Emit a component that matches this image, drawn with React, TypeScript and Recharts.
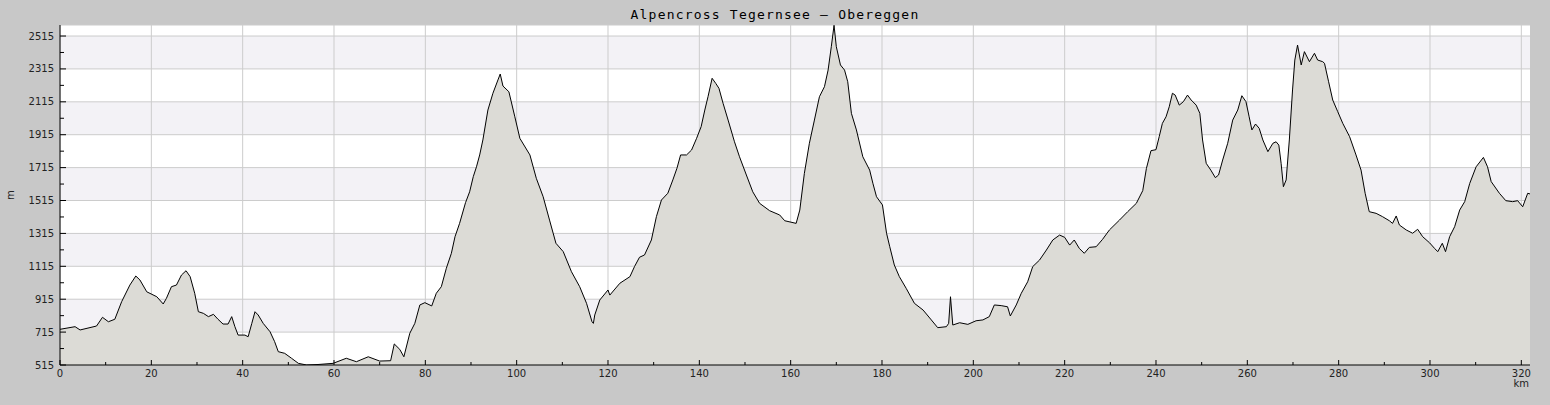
import { AreaChart, Area, XAxis, YAxis, CartesianGrid } from 'recharts';

// distance along the route (km) and elevation (m)
const distanceKm = [
  0, 3.3, 4.4, 8, 9.3, 10.6, 12, 13.5, 15.3, 16.6, 17.5, 19, 21.2, 22.6, 23.3, 24.4, 25.5, 26.6, 27.6, 28.5,
  29.5, 30.3, 31.4, 32.5, 33.6, 34.6, 35.7, 36.8, 37.6, 38.3, 39, 40.5, 41.2, 42, 42.7, 43.4, 44.5, 46, 47, 47.8,
  49.2, 50.7, 52.2, 54, 56.5, 59.8, 62.7, 64.9, 67.5, 70, 72.4, 73.2, 74.4, 75.3, 76.6, 77.7, 78.8, 79.9, 81.4, 82.4,
  83.5, 84.6, 85.7, 86.5, 87.5, 88.8, 89.7, 90.5, 91.2, 91.9, 92.6, 93.7, 94.8, 95.9, 96.4, 97, 98.3, 99.6, 100.7, 102.9,
  104.3, 105.8, 107.2, 108.6, 110.2, 112, 113.8, 115.3, 116.5, 116.8, 117.1, 118.2, 120, 120.4, 122.6, 124.8, 125.8, 126.9, 128, 129.5,
  130.6, 131.7, 133.1, 134.2, 135.1, 135.9, 137.2, 138.3, 139.4, 140.4, 141.2, 141.9, 142.8, 143.6, 144.3, 145.2, 146.3, 147.7, 148.8, 150.3,
  151.7, 153.2, 155.4, 157.6, 158.7, 161.2, 162, 163, 164.1, 165.2, 166.3, 167.4, 168.2, 168.9, 169.5, 170, 170.9, 171.8, 172.5, 173.3,
  174.4, 175.8, 177.3, 178, 178.8, 180.1, 181, 181.7, 182.7, 183.8, 185.3, 187.1, 189, 190.8, 192.2, 194.1, 194.6, 195, 195.5, 197,
  198.8, 200.6, 202.1, 203.5, 204.6, 206.1, 207.5, 208.1, 209.4, 210.5, 211.9, 213, 214.5, 216, 217.4, 218.9, 220, 221.1, 222.1, 223.2,
  224.3, 225.4, 226.9, 228.3, 229.8, 232, 233.8, 235.7, 237.1, 237.9, 238.9, 240, 240.7, 241.4, 242.2, 242.9, 243.6, 244.2, 245.1, 246,
  246.9, 247.7, 248.8, 249.6, 250.2, 251, 252, 253, 253.7, 254.6, 255.7, 256.8, 257.9, 258.8, 259.7, 260.4, 261, 261.8, 262.6, 263.4,
  264.5, 265.6, 266.3, 266.9, 267.4, 267.9, 268.5, 269.2, 269.9, 270.4, 271, 271.8, 272.5, 273.6, 274.7, 275.4, 276.5, 276.9, 277.8, 278.7,
  279.8, 280.9, 282.4, 283.8, 284.9, 285.8, 286.7, 288.2, 289.6, 291.1, 291.8, 292.6, 293.3, 294.8, 296.2, 297.3, 298.4, 299.9, 301, 301.7,
  302.7, 303.4, 304.3, 305.4, 306.5, 307.6, 308.7, 310.1, 311.7, 312.6, 313.4, 315.2, 316.6, 318.1, 319.2, 320.3, 321.4, 321.9,
];

const elevationM = [
  732, 748, 728, 752, 805, 778, 793, 900, 1001, 1056, 1032, 960, 930, 886, 920, 991, 1001, 1062, 1088, 1052,
  951, 839, 829, 809, 823, 793, 764, 764, 809, 748, 697, 697, 687, 768, 839, 819, 768, 717, 657, 596,
  586, 556, 525, 515, 518, 525, 556, 535, 565, 539, 541, 643, 610, 565, 708, 768, 880, 894, 874, 951,
  991, 1103, 1194, 1295, 1376, 1502, 1568, 1660, 1720, 1792, 1883, 2065, 2167, 2248, 2284, 2211, 2176, 2024, 1893, 1792,
  1650, 1538, 1396, 1255, 1204, 1082, 991, 890, 778, 768, 819, 910, 971, 940, 1012, 1052, 1113, 1170, 1184, 1275,
  1417, 1518, 1559, 1640, 1711, 1792, 1792, 1822, 1893, 1964, 2065, 2146, 2258, 2227, 2197, 2106, 2004, 1872, 1781, 1670,
  1568, 1498, 1453, 1427, 1392, 1376, 1457, 1680, 1863, 2004, 2146, 2207, 2308, 2450, 2580, 2450, 2339, 2308, 2237, 2045,
  1944, 1781, 1700, 1620, 1538, 1488, 1316, 1234, 1123, 1052, 981, 890, 849, 789, 742, 748, 768, 930, 758, 772,
  762, 784, 789, 809, 880, 876, 869, 813, 880, 951, 1021, 1113, 1153, 1214, 1275, 1305, 1291, 1244, 1275, 1224,
  1194, 1230, 1234, 1279, 1336, 1396, 1447, 1498, 1575, 1710, 1818, 1824, 1903, 1984, 2024, 2085, 2167, 2156, 2095, 2116,
  2156, 2126, 2095, 2045, 1883, 1741, 1700, 1654, 1670, 1761, 1863, 2004, 2065, 2152, 2116, 2024, 1944, 1980, 1954, 1883,
  1812, 1863, 1872, 1852, 1741, 1599, 1640, 1883, 2187, 2369, 2460, 2339, 2420, 2359, 2410, 2369, 2359, 2349, 2237, 2126,
  2055, 1984, 1903, 1792, 1700, 1559, 1447, 1437, 1417, 1392, 1376, 1421, 1366, 1336, 1316, 1340, 1295, 1258, 1224, 1204,
  1255, 1204, 1295, 1356, 1457, 1508, 1619, 1720, 1777, 1720, 1630, 1559, 1514, 1508, 1514, 1477, 1559, 1555,
];

const xTicks = [0, 10, 20, 30, 40, 50, 60, 70, 80, 90, 100, 110, 120, 130, 140, 150, 160, 170, 180, 190, 200, 210, 220, 230, 240, 250, 260, 270, 280, 290, 300, 310, 320];
const xGrid = [0, 20, 40, 60, 80, 100, 120, 140, 160, 180, 200, 220, 240, 260, 280, 300, 320];
const yTicks = [515, 615, 715, 815, 915, 1015, 1115, 1215, 1315, 1415, 1515, 1615, 1715, 1815, 1915, 2015, 2115, 2215, 2315, 2415, 2515];
const yGrid = [2582, 2515, 2315, 2115, 1915, 1715, 1515, 1315, 1115, 915, 715, 515];

const X_MAX = 321.9;
const Y_MIN = 515;
const Y_MAX = 2582;

const PLOT_LEFT = 60;
const PLOT_BOTTOM = 365;
const FONT = '"DejaVu Sans", sans-serif';

const data = distanceKm.map((km, i) => ({ km, elevation: elevationM[i] }));

const YTick = ({ y, payload }: any) => {
  const major = (payload.value - Y_MIN) % 200 === 0;
  return (
    <g>
      <line x1={PLOT_LEFT} x2={PLOT_LEFT + (major ? 6 : 4)} y1={y} y2={y} stroke="#000" />
      {major && (
        <text x={54} y={y} dy={3.5} textAnchor="end" fontSize={10} fontFamily={FONT} fill="#222">
          {payload.value}
        </text>
      )}
    </g>
  );
};

const XTick = ({ x, payload }: any) => {
  const major = payload.value % 20 === 0;
  return (
    <g>
      <line x1={x} x2={x} y1={PLOT_BOTTOM} y2={PLOT_BOTTOM - (major ? 5 : 3)} stroke="#000" />
      {major && (
        <text x={x} y={PLOT_BOTTOM + 12} textAnchor="middle" fontSize={10} fontFamily={FONT} fill="#222">
          {payload.value}
        </text>
      )}
    </g>
  );
};

const App = () => (
  <div
    style={{
      position: 'fixed',
      left: 0,
      top: 0,
      width: 1550,
      height: 405,
      background: '#c8c8c8',
    }}
  >
    <div
      style={{
        position: 'absolute',
        top: 7,
        left: 0,
        width: 1550,
        textAlign: 'center',
        fontFamily: '"DejaVu Sans Mono", monospace',
        fontSize: 13,
        lineHeight: '16px',
        letterSpacing: 1.2,
        color: '#000',
      }}
    >
      Alpencross Tegernsee – Obereggen
    </div>
    <AreaChart
      width={1550}
      height={405}
      data={data}
      margin={{ top: 25, right: 20, bottom: 0, left: 0 }}
      style={{ position: 'absolute', left: 0, top: 0 }}
    >
      <CartesianGrid
        stroke="#cccccc"
        horizontalValues={yGrid}
        verticalValues={xGrid}
        horizontalFill={['#ffffff', '#f3f2f6']}
      />
      <XAxis
        dataKey="km"
        type="number"
        domain={[0, X_MAX]}
        ticks={xTicks}
        interval={0}
        height={40}
        axisLine={{ stroke: '#000' }}
        tickLine={false}
        tick={<XTick />}
        allowDataOverflow
        label={{
          content: ({ viewBox }: any) => (
            <text
              x={viewBox.x + viewBox.width - 1}
              y={viewBox.y + 22}
              textAnchor="end"
              fontSize={10}
              fontFamily={FONT}
              fill="#222"
            >
              km
            </text>
          ),
        }}
      />
      <YAxis
        type="number"
        domain={[Y_MIN, Y_MAX]}
        ticks={yTicks}
        interval={0}
        width={60}
        axisLine={{ stroke: '#000' }}
        tickLine={false}
        tick={<YTick />}
        allowDataOverflow
        label={{
          content: ({ viewBox }: any) => (
            <text
              x={14}
              y={viewBox.y + viewBox.height / 2}
              transform={`rotate(-90 14 ${viewBox.y + viewBox.height / 2})`}
              textAnchor="middle"
              fontSize={10}
              fontFamily={FONT}
              fill="#222"
            >
              m
            </text>
          ),
        }}
      />
      <Area
        type="linear"
        dataKey="elevation"
        stroke="#000"
        strokeWidth={1}
        fill="#dcdbd6"
        fillOpacity={1}
        isAnimationActive={false}
        dot={false}
        activeDot={false}
      />
    </AreaChart>
  </div>
);

export default App;
